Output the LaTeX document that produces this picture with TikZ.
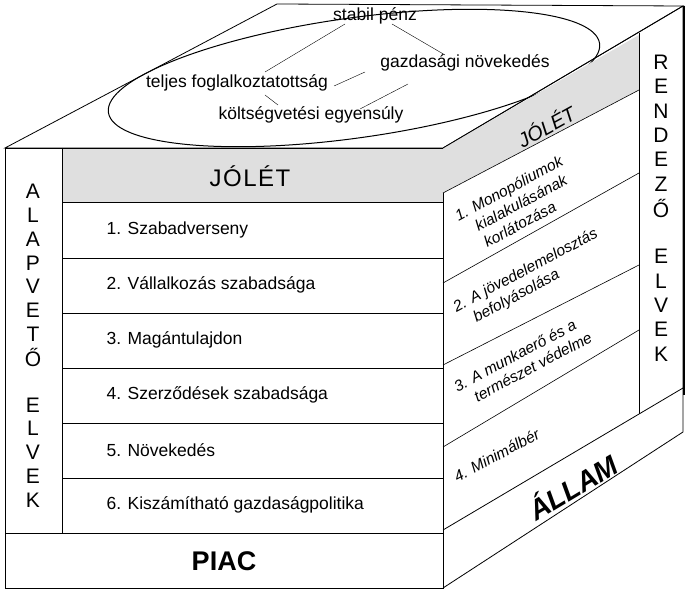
\documentclass[tikz,border=0pt]{standalone}
\usepackage{fontspec}
\setmainfont{Liberation Sans}
\usetikzlibrary{calc}
\tikzset{
  edge/.style={draw, line width=0.8pt},
  rowtext/.style={anchor=west, font=\fontsize{17.5}{20}\selectfont},
  sidetext/.style={font=\itshape\fontsize{15.5}{18.5}\selectfont, rotate=28, align=left, anchor=north west, inner sep=0pt},
  letter/.style={font=\fontsize{21}{21}\selectfont},
  goal/.style={font=\fontsize{17.5}{19}\selectfont}
}
\begin{document}
\begin{tikzpicture}[x=1pt,y=-1pt]
  \useasboundingbox (0,0) rectangle (689,593);
  % corners of the cube
  \coordinate (FTL) at (5,148);
  \coordinate (FTR) at (443,148);
  \coordinate (FBL) at (5,588);
  \coordinate (FBR) at (443,588);
  \coordinate (BTL) at (277,4);
  \coordinate (BTR) at (683,6);
  \coordinate (BBR) at (683,432);
  % top face
  \draw[edge, fill=white] (FTL) -- (BTL) -- (BTR) -- (FTR) -- cycle;
  \draw[line width=1pt, rotate around={8:(354,78)}] (354,78) ellipse (248 and 60);
  % front face
  \fill[gray!25] (62,148) rectangle (443,202);
  \draw[edge] (FTL) rectangle (FBR);
  \draw[edge] (62,148) -- (62,533);
  \draw[edge] (5,533) -- (443,533);
  \foreach \y in {202,258,313,368,423,478} {
    \draw[line width=0.6pt] (62,\y) -- (443,\y);
  }
  % right face
  \fill[gray!25] (443,148) -- (639,35) -- (639,90) -- (443,193) -- cycle;
  \draw[edge] (FTR) -- (BTR) -- (BBR) -- (FBR);
  \draw[line width=2.5pt] (684,6) -- (684,395);
  \draw[edge] (639,33) -- (639,414);
  \draw[line width=0.6pt] (443,193) -- (639,90);
  \draw[line width=0.6pt] (443,283) -- (639,173);
  \draw[line width=0.6pt] (443,365) -- (639,265);
  \draw[line width=0.6pt] (443,447) -- (639,330);
  \draw[edge] (443,530) -- (683,388);
  % goals on top
  \node[goal] (stabil) at (375,16) {stabil pénz};
  \node[goal] (gazd) at (465,63) {gazdasági növekedés};
  \node[goal] (teljes) at (237,83) {teljes foglalkoztatottság};
  \node[goal] (kolt) at (311,115) {költségvetési egyensúly};
  \coordinate (mid) at (365,72);
  \draw (345,24) -- (265,72);
  \draw (392,24) -- (445,55);
  \draw (334,86) -- (mid);
  \draw (265,95) -- (278,105);
  \draw (408,84) -- (360,109);
  % front texts
  \node[font=\fontsize{24}{24}\selectfont] (jolet) at (250,176) {J\kern1.5ptÓ\kern1.5ptL\kern1.5ptÉ\kern1.5ptT};
  \node[rowtext] (r1) at (103,230) {1. Szabadverseny};
  \node[rowtext] (r2) at (103,285) {2. Vállalkozás szabadsága};
  \node[rowtext] (r3) at (103,340) {3. Magántulajdon};
  \node[rowtext] (r4) at (103,395) {4. Szerződések szabadsága};
  \node[rowtext] (r5) at (103,450) {5. Növekedés};
  \node[rowtext] (r6) at (103,505) {6. Kiszámítható gazdaságpolitika};
  \node[font=\bfseries\fontsize{27}{27}\selectfont] (piac) at (224,561) {PIAC};
  \foreach \c [count=\i] in {A,L,A,P,V,E,T,Ő,{},E,L,V,E,K} {
    \node[letter] at (33,{168+\i*23.7}) {\c};
  }
  \foreach \c [count=\i] in {R,E,N,D,E,Z,Ő,{},E,L,V,E,K} {
    \node[letter] at (661,{38+\i*24.3}) {\c};
  }
  % right face texts
  \node[font=\itshape\fontsize{20}{20}\selectfont, rotate=29] (jolet2) at (546,126) {JÓLÉT};
  \node[sidetext] (s1) at (453,211) {1. Monopóliumok\\ \ \ \ kialakulásának\\ \ \ \ korlátozása};
  \node[sidetext] (s2) at (451,302) {2. A jövedelemelosztás\\ \ \ \ befolyásolása};
  \node[sidetext] (s3) at (452,382) {3. A munkaerő és a\\ \ \ \ természet védelme};
  \node[sidetext] (s4) at (452,472) {4. Minimálbér};
  \node[font=\bfseries\itshape\fontsize{28}{28}\selectfont, rotate=31] (allam) at (572,486) {ÁLLAM};
\end{tikzpicture}
\end{document}
